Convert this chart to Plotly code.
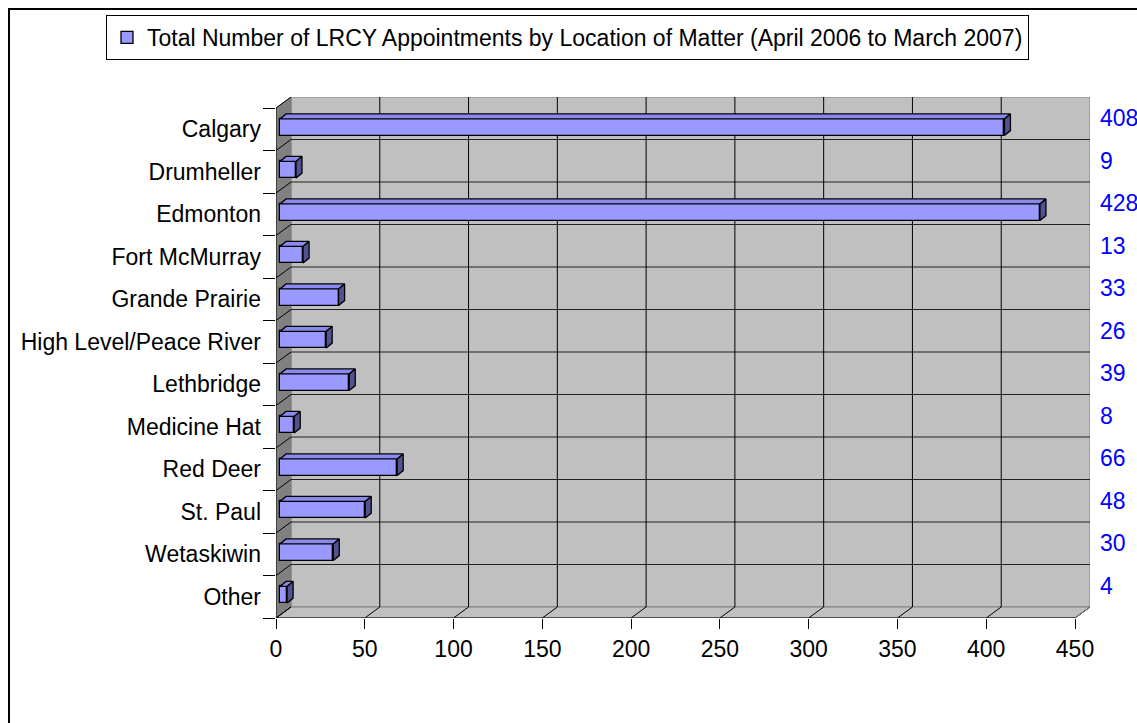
import plotly.graph_objects as go

categories = ["Calgary", "Drumheller", "Edmonton", "Fort McMurray", "Grande Prairie",
              "High Level/Peace River", "Lethbridge", "Medicine Hat", "Red Deer",
              "St. Paul", "Wetaskiwin", "Other"]
values = [408, 9, 428, 13, 33, 26, 39, 8, 66, 48, 30, 4]
x_ticks = [0, 50, 100, 150, 200, 250, 300, 350, 400, 450]
series_name = "Total Number of LRCY Appointments by Location of Matter (April 2006 to March 2007)"

# ---- geometry (reference pixel layout; page margin removed via post_script) ----
OFF = 0
W, H = 1137, 723
L, R, T, B = 276, 1090, 97, 618          # plot area in reference pixels
pw, ph = R - L, B - T
xmax = 450
pxu = (1075 - 276) / xmax                # px per data unit
n = len(categories)
row = (618 - 108) / n                    # px per category
WDX = 15 / pxu                           # wall depth in x units
WDY = -11 / row                          # wall depth in category units
BOX = 4 / pxu                            # bar plane x offset
BOY = -2 / row                           # bar plane y offset
BH = 16.7 / row                          # bar thickness
BDX = 6 / pxu                            # bar depth
BDY = -5 / row
ytop, ybot = -0.5, n - 0.5
x_range = [0, (R - L) / pxu]
y_range = [ybot, ytop - 11 / row]

FONT = "Liberation Sans, Arial, sans-serif"
FS = 23

fig = go.Figure()


def poly(xs, ys, fill, line="rgba(0,0,0,0)", width=1, xa="x", ya="y"):
    fig.add_trace(go.Scatter(x=xs, y=ys, fill="toself", fillcolor=fill, mode="lines",
                             line=dict(color=line, width=width), hoverinfo="skip",
                             showlegend=False, xaxis=xa, yaxis=ya))


def lines(xs, ys, color, width=1):
    fig.add_trace(go.Scatter(x=xs, y=ys, mode="lines", line=dict(color=color, width=width),
                             hoverinfo="skip", showlegend=False))


# back wall
poly([WDX, xmax + WDX, xmax + WDX, WDX, WDX],
     [ytop + WDY, ytop + WDY, ybot + WDY, ybot + WDY, ytop + WDY], "#c0c0c0", "#808080")
# floor
poly([0, xmax, xmax + WDX, WDX, 0],
     [ybot, ybot, ybot + WDY, ybot + WDY, ybot], "#c0c0c0", "#808080")
# side wall
poly([0, WDX, WDX, 0, 0],
     [ytop, ytop + WDY, ybot + WDY, ybot, ytop], "#808080", "#808080")

# horizontal gridlines on back wall + diagonals on side wall
gx, gy, dx_, dy_ = [], [], [], []
for k in range(n + 1):
    b = ytop + k
    if 0 < k < n:
        gx += [WDX, xmax + WDX, None]
        gy += [b + WDY, b + WDY, None]
    dx_ += [0, WDX, None]
    dy_ += [b, b + WDY, None]
lines(gx, gy, "#202020")
lines(dx_, dy_, "#000000")

# vertical gridlines on back wall + floor diagonals
vx, vy, fx, fy = [], [], [], []
for t in x_ticks:
    if 0 < t < xmax:
        vx += [t + WDX, t + WDX, None]
        vy += [ytop + WDY, ybot + WDY, None]
    fx += [t, t + WDX, None]
    fy += [ybot, ybot + WDY, None]
lines(vx, vy, "#000000")
lines(fx, fy, "#000000")
lines([xmax, xmax + WDX], [ybot, ybot + WDY], "#808080")

# front axis lines
lines([0, xmax], [ybot, ybot], "#000000")
lines([0, 0], [ytop, ybot], "#000000")

# bars (on an overlaid subplot so they draw above the walls)
yc = [i + BOY for i in range(n)]
fig.add_trace(go.Bar(
    y=yc, x=values, base=[BOX] * n, orientation="h", width=BH,
    marker=dict(color="#9999ff", line=dict(color="#000000", width=1.3)),
    name=series_name, showlegend=True, hoverinfo="skip", xaxis="x2", yaxis="y3"))

tx, ty, sx, sy = [], [], [], []
for i, v in enumerate(values):
    x0, x1 = BOX, BOX + v
    yt, yb = yc[i] - BH / 2, yc[i] + BH / 2
    tx += [x0, x1, x1 + BDX, x0 + BDX, x0, None]
    ty += [yt, yt, yt + BDY, yt + BDY, yt, None]
    sx += [x1, x1 + BDX, x1 + BDX, x1, x1, None]
    sy += [yt, yt + BDY, yb + BDY, yb, yt, None]
poly(tx, ty, "#8a8aee", "#000000", 1.3, "x2", "y3")
poly(sx, sy, "#525290", "#000000", 1.3, "x2", "y3")

# tick marks on category boundaries (secondary y axis, no labels)
fig.add_trace(go.Scatter(x=[None], y=[None], yaxis="y2", showlegend=False, hoverinfo="skip"))

# value labels on the right (annotations; x in paper units so they are not hidden)
value_annotations = [
    dict(x=(1098 - L) / pw, y=i + WDY, xref="paper", yref="y", text=str(v),
         showarrow=False, xanchor="left", yanchor="middle",
         font=dict(color="#0000ff", size=FS, family=FONT))
    for i, v in enumerate(values)
]

fig.update_layout(
    width=W, height=H,
    margin=dict(l=L - OFF, r=W - (R - OFF), t=T - OFF, b=H - (B - OFF)),
    paper_bgcolor="white", plot_bgcolor="rgba(0,0,0,0)",
    font=dict(family=FONT, size=FS, color="black"),
    xaxis=dict(range=x_range, tickvals=x_ticks, ticktext=[str(t) for t in x_ticks],
               ticks="outside", ticklen=10, tickcolor="black", tickwidth=1,
               showgrid=False, zeroline=False, showline=False, fixedrange=True,
               tickfont=dict(size=FS, color="black")),
    xaxis2=dict(range=x_range, overlaying="x", visible=False),
    yaxis=dict(range=y_range, tickvals=list(range(n)), ticktext=categories,
               ticks="", showgrid=False, zeroline=False, showline=False,
               ticklabelstandoff=14, tickfont=dict(size=FS, color="black")),
    yaxis2=dict(range=y_range, overlaying="y", side="left",
                tickvals=[ytop + k for k in range(n + 1)], ticks="outside", ticklen=12,
                tickcolor="black", showticklabels=False, showgrid=False,
                zeroline=False, showline=False),
    yaxis3=dict(range=y_range, overlaying="y", visible=False),
    showlegend=True,
    legend=dict(x=(106 - L) / pw, y=(B - 15) / ph, xanchor="left", yanchor="top",
                bordercolor="black", borderwidth=1, bgcolor="white",
                font=dict(size=FS, family=FONT), itemwidth=30),
    annotations=value_annotations,
    shapes=[dict(type="rect", xref="paper", yref="paper",
                 x0=(9 - L) / pw, x1=(1160 - L) / pw,
                 y0=(B - 760) / ph, y1=(B - 9) / ph,
                 line=dict(color="black", width=2), fillcolor="rgba(0,0,0,0)", layer="below")],
    bargap=0,
)

fig.write_html("out.html", config={"displayModeBar": False},
               post_script="document.body.style.margin='0';document.body.style.overflow='hidden';")
